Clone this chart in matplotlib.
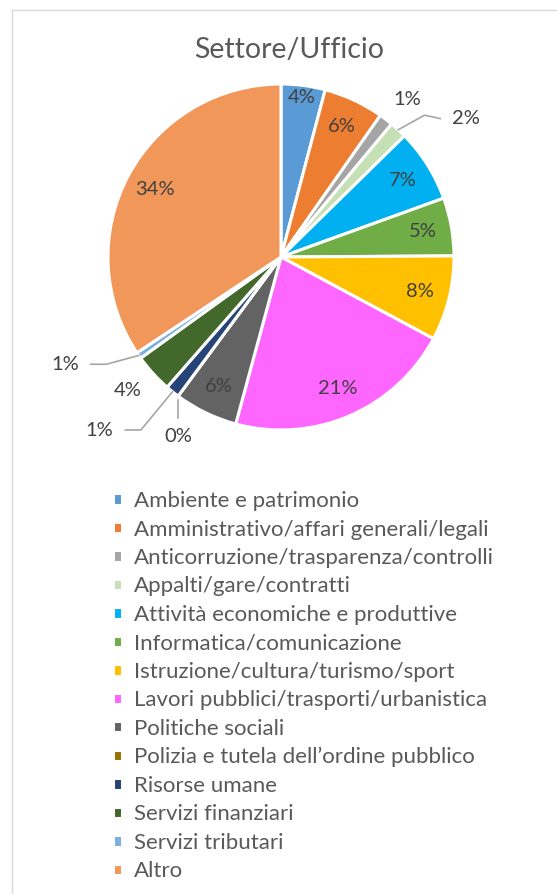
import numpy as np
import matplotlib.pyplot as plt
from matplotlib.lines import Line2D

# dati (percentuali)
categorie = ['Ambiente e patrimonio',
             'Amministrativo/affari generali/legali',
             'Anticorruzione/trasparenza/controlli',
             'Appalti/gare/contratti',
             'Attività economiche e produttive',
             'Informatica/comunicazione',
             'Istruzione/cultura/turismo/sport',
             'Lavori pubblici/trasporti/urbanistica',
             'Politiche sociali',
             'Polizia e tutela dell\u2019ordine pubblico',
             'Risorse umane',
             'Servizi finanziari',
             'Servizi tributari',
             'Altro']
valori = [4.1, 5.6, 1.3, 1.6, 6.8, 5.4, 7.9, 21.3, 5.9, 0.0, 1.3, 3.6, 0.6, 34.2]
colori = ['#5B9BD5', '#ED7D31', '#A5A5A5', '#C5E0B4', '#00B0F0', '#70AD47',
          '#FFC000', '#FF66FF', '#636363', '#997300', '#264478', '#43682B',
          '#7CAFDD', '#F1975A']

font = ['Lato', 'DejaVu Sans']
plt.rcParams['font.family'] = font

W, H = 557, 894
fig = plt.figure(figsize=(W / 100, H / 100), dpi=100)

# bordo dell'area grafico
fig.add_artist(Line2D([12 / W, 12 / W], [0, 1 - 10 / H], color='#D9D9D9', lw=1))
fig.add_artist(Line2D([12 / W, 1], [1 - 10 / H, 1 - 10 / H], color='#D9D9D9', lw=1))

fig.text(289 / W, 1 - 50 / H, 'Settore/Ufficio', ha='center', va='center',
         fontsize=20.5, color='#595959')

# torta
R = 173.0
cx, cy = 281, 257
box = 230
ax = fig.add_axes([(cx - box) / W, (H - cy - box) / H, 2 * box / W, 2 * box / H])

wedges, _ = ax.pie(valori, colors=colori, startangle=90, counterclock=False,
                   radius=1, wedgeprops=dict(edgecolor='white', linewidth=2.2))
ax.set_xlim(-box / R, box / R)
ax.set_ylim(-box / R, box / R)
ax.axis('off')

tot = sum(valori)
cum = np.cumsum([0] + valori[:-1])
mid = [90 - 360 * (c + v / 2) / tot for c, v in zip(cum, valori)]

# etichette esterne: (posizione testo, tipo connettore)
esterne = {2: ((0.73, 0.91), None),
           3: ((1.07, 0.80), 'h'),
           9: ((-0.595, -1.04), 'v'),
           10: ((-1.05, -1.00), 'h'),
           11: ((-0.884, -0.77), None),
           12: ((-1.25, -0.62), 'h')}
raggio = {0: 0.93}

for i, v in enumerate(valori):
    lab = f'{v:.0f}%'
    a = np.deg2rad(mid[i])
    if i in esterne:
        (tx, ty), tipo = esterne[i]
        ax.text(tx, ty, lab, ha='center', va='center', fontsize=14.5, color='#404040')
        if tipo is not None:
            px, py = 1.0 * np.cos(a), 1.0 * np.sin(a)
            if tipo == 'v':
                ax.plot([px, px], [py - 0.02, ty + 0.11], color='#A6A6A6', lw=1.2)
            else:
                side = 1 if tx > 0 else -1
                ex = tx - side * 0.15
                kx = ex - side * 0.09
                ax.plot([px, kx, ex], [py, ty + (0.02 if side > 0 else 0), ty],
                        color='#A6A6A6', lw=1.2)
    else:
        r = raggio.get(i, 0.83)
        ax.text(r * np.cos(a), r * np.sin(a), lab, ha='center', va='center',
                fontsize=14.5, color='#404040')

leg = fig.legend(wedges, categorie, loc='upper left',
                 bbox_to_anchor=(102 / W, 1 - 480 / H), frameon=False,
                 fontsize=16, handlelength=0.42, handleheight=0.42,
                 handletextpad=0.5, labelspacing=0.38, borderpad=0)
for t in leg.get_texts():
    t.set_color('#595959')

fig.savefig('out.png', dpi=100)
